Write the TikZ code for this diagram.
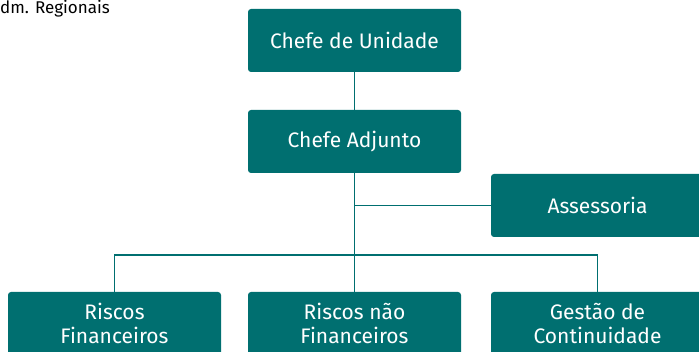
\documentclass[tikz,border=0pt]{standalone}
\usepackage{fontspec}
\setmainfont{Fira Sans}
\usetikzlibrary{positioning}
\definecolor{orgteal}{HTML}{006F70}
\tikzset{orgbox/.style = {fill=orgteal, text=white, rounded corners=3pt,
                          minimum width=213pt, minimum height=63pt,
                          align=center, font=\fontsize{21}{24}\selectfont},
         link/.style = {draw=orgteal, line width=1.6pt}}

\begin{document}
\begin{tikzpicture}[x=1pt, y=-1pt]
  \useasboundingbox (0,0) rectangle (699,352);
    \node [anchor=west, inner sep=0pt, font=\fontsize{17}{20}\selectfont] (regionais) at (0,9) {dm. Regionais};
    \node [orgbox] (unidade) at (354.5, 40.5) {Chefe de Unidade};
    \node [orgbox] (adjunto) at (354.5, 141.5) {Chefe Adjunto};
    \node [orgbox] (assessoria) at (597.5, 205.5) {Assessoria};
    \node [orgbox] (riscosfin) at (114.5, 323.5) {Riscos\\Financeiros};
    \node [orgbox] (riscosnao) at (354.5, 323.5) {Riscos não\\Financeiros};
    \node [orgbox] (gestao) at (597.5, 323.5) {Gestão de\\Continuidade};
    \coordinate (bus) at (354.5, 255);
    \draw [link] (unidade) -- (adjunto);
    \draw [link] (adjunto) -- (bus);
    \draw [link] (adjunto |- assessoria) -- (assessoria);
    \draw [link] (riscosfin) |- (bus) -| (gestao);
    \draw [link] (bus) -- (riscosnao);
  \end{tikzpicture}
\end{document}
